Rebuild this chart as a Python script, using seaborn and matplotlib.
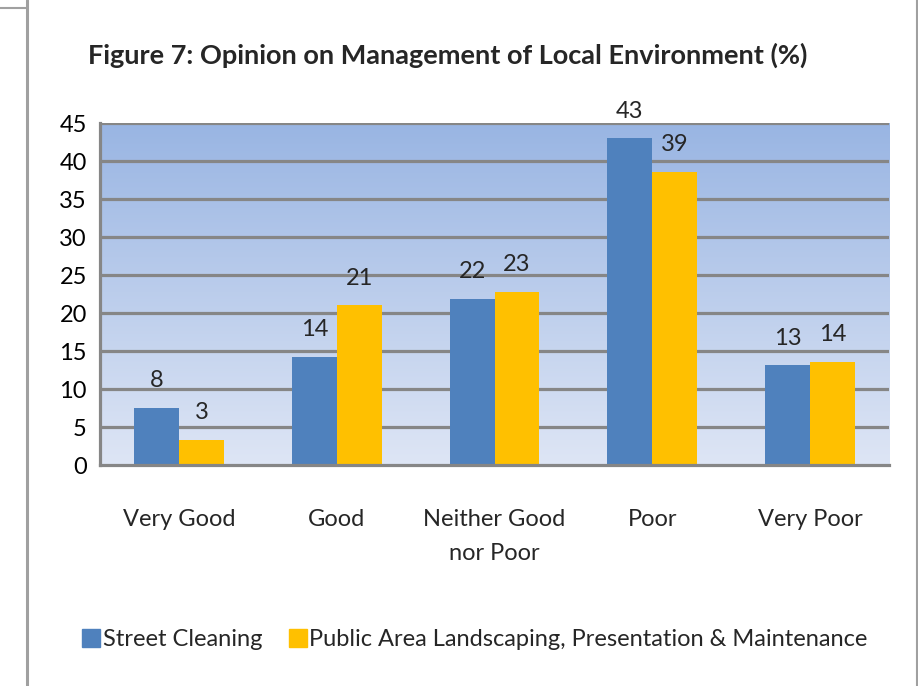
import numpy as np
import pandas as pd
import matplotlib
matplotlib.use("Agg")
import matplotlib.pyplot as plt
from matplotlib.lines import Line2D
import seaborn as sns

# data
categories = ["Very Good", "Good", "Neither Good\nnor Poor", "Poor", "Very Poor"]
street_cleaning = [7.5, 14.2, 21.9, 43.0, 13.1]
public_area = [3.3, 21.0, 22.8, 38.6, 13.6]
street_labels = ["8", "14", "22", "43", "13"]
public_labels = ["3", "21", "23", "39", "14"]
series_names = ["Street Cleaning", "Public Area Landscaping, Presentation & Maintenance"]
colors = ["#4F81BD", "#FFC000"]

df = pd.DataFrame({
    "category": categories * 2,
    "value": street_cleaning + public_area,
    "series": [series_names[0]] * 5 + [series_names[1]] * 5,
})

sns.set_style("white")
plt.rcParams["font.family"] = ["Lato", "DejaVu Sans"]

fig = plt.figure(figsize=(9.18, 6.86), dpi=100)
ax = fig.add_axes([100 / 918, 1 - 465 / 686, 789 / 918, 342 / 686])

# gradient plot-area background (light at bottom, blue at top)
grad = np.linspace(0, 1, 256).reshape(-1, 1, 1)
top = np.array([0.60, 0.71, 0.89])
bottom = np.array([0.87, 0.90, 0.96])
img = bottom + (top - bottom) * grad
ax.imshow(img, extent=[-0.5, 4.5, 0, 45], origin="lower", aspect="auto", zorder=0)

sns.barplot(data=df, x="category", y="value", hue="series", palette=colors,
            width=0.57, saturation=1, ax=ax, legend=False, zorder=3,
            edgecolor="none", linewidth=0)

ax.set_xlim(-0.5, 4.5)
ax.set_ylim(0, 45)
ax.set_yticks(range(0, 50, 5))
ax.set_xticks(np.arange(-0.5, 5, 1))
ax.set_xticklabels([])
for i, c in enumerate(categories):
    ax.text(i, -5.8, c, ha="center", va="top", fontsize=17, linespacing=1.75)

grid_color = "#868686"
for y in range(5, 50, 5):
    ax.axhline(y, color=grid_color, lw=2.3, zorder=2)
for s in ["top", "right"]:
    ax.spines[s].set_visible(False)
for s in ["left", "bottom"]:
    ax.spines[s].set_color(grid_color)
    ax.spines[s].set_linewidth(2.3)
    ax.spines[s].set_zorder(4)
ax.tick_params(axis="both", colors=grid_color, width=2.3, length=6, direction="out",
               labelsize=17, labelcolor="black")
ax.tick_params(axis="x", length=8)
ax.set_xlabel("")
ax.set_ylabel("")

for cont, labs in zip(ax.containers, [street_labels, public_labels]):
    ax.bar_label(cont, labels=labs, padding=12, fontsize=17, clip_on=False)

fig.text(88 / 918, 1 - 55 / 686, "Figure 7: Opinion on Management of Local Environment (%)",
         fontsize=19.5, fontweight="bold", ha="left", va="center")

handles = [Line2D([], [], marker="s", ls="none", markersize=13, color=c) for c in colors]
fig.legend(handles, series_names, loc="center", bbox_to_anchor=(0.517, 1 - 640 / 686),
           ncol=2, frameon=False, fontsize=17, handletextpad=0.1, columnspacing=1.1,
           handlelength=0.8)

# page frame lines
fig.add_artist(Line2D([27 / 918, 27 / 918], [0, 1], color="#A0A0A0", lw=2.2))
fig.add_artist(Line2D([917 / 918, 917 / 918], [0, 1], color="#A0A0A0", lw=1.5))
fig.add_artist(Line2D([0, 27 / 918], [1 - 8 / 686, 1 - 8 / 686], color="#A0A0A0", lw=1.5))

fig.savefig("out.png", dpi=100)
